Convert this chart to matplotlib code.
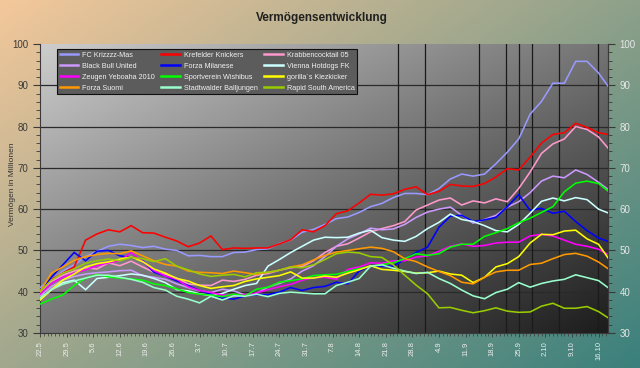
import numpy as np
import matplotlib
matplotlib.use("Agg")
import matplotlib.pyplot as plt
from matplotlib.lines import Line2D

# ---------------- data ----------------
days = list(range(0, 148, 3)) + [149.5]          # days since 22.5
tick_days = list(range(0, 148, 7))
tick_labels = ["22.5", "29.5", "5.6", "12.6", "19.6", "26.6", "3.7", "10.7", "17.7",
               "24.7", "31.7", "7.8", "14.8", "21.8", "28.8", "4.9", "11.9", "18.9",
               "25.9", "2.10", "9.10", "16.10"]
event_days = [94.2, 101.3, 115.5, 122.6, 126.0, 129.5, 136.6, 146.8]

krizz = [41, 43, 45, 46.5, 48.5, 49.8, 51, 51.5, 51.2, 50.7, 51, 50.3, 50, 48.7, 48.8, 48.5, 48.5,
         49.5, 49.6, 50.2, 50.4, 51.7, 52.5, 54.4, 55.1, 56.3, 57.7, 58.1, 59.2, 60.6, 61.4, 62.8,
         63.8, 63.8, 63.5, 65, 67.3, 68.5, 68, 68.5, 71, 73.8, 77, 83, 86.1, 90.5, 90.5, 95.8,
         95.8, 93, 89.8]
krefeld = [40, 43, 44.5, 46, 52.5, 54, 55, 54.5, 56, 54.3, 54.2, 53.2, 52.3, 50.9, 51.8, 53.5,
           50.2, 50.6, 50.5, 50.6, 50.6, 51.6, 52.6, 55, 54.5, 56, 58.9, 59.6, 61.5, 63.6, 63.4,
           63.7, 64.8, 65.4, 63.5, 64.3, 66, 65.6, 65.5, 66.2, 67.8, 69.8, 69.5, 72.6, 76, 78.1,
           78.5, 80.8, 79.8, 78.5, 78.1]
krabben = [39.8, 42.5, 44, 45, 45.8, 45.5, 47, 46.3, 47.4, 46, 44.7, 44.2, 43.3, 41.9, 41.6, 41.5,
           42.8, 42.5, 43, 44, 44.4, 45.2, 45.8, 46.1, 47.5, 49.5, 51, 51.6, 53, 54.5, 55.3, 56,
           57, 59.8, 61, 62.2, 62.7, 61, 62, 61.5, 62.5, 61.8, 65, 69, 73.5, 75.8, 77, 80, 79.3,
           77.5, 74.8]
blackbull = [39, 41.2, 42.8, 43.7, 44.3, 44.6, 44.8, 45.1, 45.2, 43.9, 43.5, 43, 41.9, 41, 40.2,
             39.8, 40.6, 40.2, 39.2, 39.6, 41.1, 42, 43.1, 45, 46.3, 48.5, 51, 52.8, 54, 55.4, 55,
             55.2, 56.3, 58, 59.3, 60, 60.5, 58.5, 56.6, 57.5, 58.5, 60.5, 61.8, 64, 66.8, 68,
             67.6, 69.5, 68.4, 66.5, 64.8]
milanese = [40, 43.5, 46.5, 49.5, 47.5, 49.8, 50, 48.7, 48.3, 47.5, 44.7, 43.8, 42.6, 41.5, 40.3,
            39.4, 38.5, 38.2, 39, 39.3, 39.3, 39.9, 41, 40.3, 41, 41.3, 42.3, 41.9, 45, 46.3, 46.2,
            46.2, 47.8, 49.5, 50.8, 55.6, 58.3, 58.5, 57, 57.4, 58, 60.6, 63.5, 59.7, 60.2, 59,
            59.5, 57, 54.8, 53, 52.2]
vienna = [38, 40.5, 42.2, 42.8, 40.5, 43.2, 43.5, 43.9, 44.3, 44, 43.2, 42.2, 40.5, 40.2, 39.5,
          39, 39.6, 40.6, 41.5, 42, 46.2, 47.8, 49.5, 51, 52.5, 53.2, 53.1, 53.2, 54.2, 54.9, 53.1,
          52.5, 52.2, 53.4, 55.3, 56.8, 58.8, 57.5, 57, 56, 54.8, 54.5, 56.3, 59, 61.9, 62.7, 62,
          62.8, 62.3, 60, 59.1]
zeugen = [39.4, 42, 43.5, 44.5, 45.3, 46.3, 47, 47.5, 49.5, 47.3, 45.1, 43.8, 43, 41.2, 40.3,
          39.8, 39.2, 39, 39.3, 39.7, 40.5, 41.2, 41.8, 42.8, 43.4, 43.5, 43, 45.4, 46, 47, 46.9,
          47.5, 47.5, 48.4, 48.7, 49.8, 51, 51.6, 51, 51.2, 51.8, 52, 52, 53.5, 53.9, 53.5, 52.5,
          51.5, 51, 50.3, 49]
wishibus = [37, 38.2, 39.2, 41.5, 43.3, 44.2, 43.6, 43.3, 43.1, 42.8, 41.9, 41.5, 40.7, 39.8,
            39.4, 39.2, 38.8, 39.4, 39, 40.6, 41.1, 42.3, 42.7, 43.1, 43.9, 44.1, 44.2, 44.9, 45.6,
            46.1, 46.6, 47, 48, 49.2, 48.8, 49.2, 50.8, 51.5, 51.5, 53.4, 54.3, 55.3, 56.7, 57.8,
            59.2, 60.6, 64.2, 66.3, 66.8, 66.2, 64.4]
gorilla = [38, 40.5, 42.8, 44.3, 46, 46.8, 47.2, 47.9, 48.4, 47.3, 45.5, 44.5, 43.2, 42.6, 41.5,
           40.8, 41.2, 41.5, 42.5, 43.1, 43.5, 43.9, 44.8, 43.3, 43.3, 43.8, 43.5, 44.5, 45.3,
           46.3, 45.4, 45.2, 44.9, 44.5, 44.6, 45, 44.3, 44, 42.2, 43.5, 46, 46.8, 48.5, 51.8,
           53.9, 53.8, 54.7, 54.9, 52.8, 51.5, 48.2]
suomi = [40, 44.5, 46, 47.6, 48.5, 49, 49.3, 49.2, 49.9, 48.7, 47.5, 46.6, 46.2, 45, 44.7, 44.6,
         44.4, 45, 44.6, 44.2, 44.7, 45.2, 46, 46.5, 47.7, 48.8, 49.6, 50, 50.4, 50.8, 50.5, 49.7,
         48, 47.3, 46, 44.9, 43.9, 42.3, 41.9, 43.5, 44.8, 45.2, 45.2, 46.6, 46.9, 48, 49, 49.3,
         48.6, 47.2, 45.6]
stadtwald = [38.5, 40.5, 41.8, 42.6, 43.3, 44, 44, 43.5, 43, 42.3, 41, 40.4, 38.9, 38.2, 37.3,
             38.9, 38, 39, 38.9, 39.4, 38.8, 39.6, 39.9, 39.7, 39.5, 39.5, 41.5, 42.3, 43.2, 46.2,
             46.5, 45.7, 45, 44.4, 44.7, 43.2, 42, 40.4, 39, 38.3, 39.8, 40.6, 42.2, 41.1, 42, 42.6,
             43, 44.1, 43.4, 42.7, 41]
rapid = [40, 42.8, 44.5, 45.5, 46.9, 47.5, 47.9, 47.5, 48.3, 48, 47.3, 48, 46.2, 45.3, 44.3, 43.7,
         44, 44.2, 43.6, 44.6, 44.7, 45.2, 46, 45.8, 46.5, 47.8, 49.2, 49.6, 49.4, 48.5, 48.3, 46.5,
         44, 41.6, 39.5, 36.1, 36.2, 35.5, 34.9, 35.4, 36.1, 35.3, 35, 35.1, 36.5, 37.2, 36, 36,
         36.4, 35.2, 33.7]

series = [
    ("FC Krizzzz-Mas", krizz, "#9999ff"),
    ("Krefelder Knickers", krefeld, "#ff0000"),
    ("Krabbencocktail 05", krabben, "#ff99cc"),
    ("Black Bull United", blackbull, "#cc99ff"),
    ("Forza Milanese", milanese, "#0000ff"),
    ("Vienna Hotdogs FK", vienna, "#ccffff"),
    ("Zeugen Yeboaha 2010", zeugen, "#ff00ff"),
    ("Sportverein Wishibus", wishibus, "#00ff00"),
    ("gorilla´s Kiezkicker", gorilla, "#ffff00"),
    ("Forza Suomi", suomi, "#ff9900"),
    ("Stadtwalder Balljungen", stadtwald, "#99ffcc"),
    ("Rapid South America", rapid, "#99cc00"),
]

plt.rcParams['font.family'] = ['Liberation Sans', 'DejaVu Sans']

fig = plt.figure(figsize=(6.4, 3.68), dpi=100)

# figure background gradient
bg = fig.add_axes([0, 0, 1, 1], zorder=-10)
bg.axis('off')
yy, xx = np.mgrid[0:1:200j, 0:1:350j]
t = np.clip(0.55 * xx + 0.45 * yy, 0, 1)[..., None]
c0 = np.array([244, 200, 155]) / 255
c1 = np.array([58, 128, 124]) / 255
bg.imshow(c0 * (1 - t) + c1 * t, extent=[0, 1, 0, 1], aspect='auto', origin='upper')
bg.set_xlim(0, 1); bg.set_ylim(0, 1)

ax = fig.add_axes([0.0625, 0.0951, 0.8875, 0.7853])
yy2, xx2 = np.mgrid[0:1:200j, 0:1:300j]
t2 = np.clip(0.5 * xx2 + 0.5 * yy2, 0, 1)[..., None]
p0 = np.array([205, 205, 205]) / 255
p1 = np.array([28, 28, 28]) / 255
ax.imshow(p0 * (1 - t2) + p1 * t2, extent=[0, 1, 0, 1], transform=ax.transAxes,
          aspect='auto', origin='upper', zorder=0)

for v in range(40, 100, 10):
    ax.axhline(v, color='#2a2a2a', lw=0.9, zorder=1)
for d in event_days:
    ax.axvline(d, color='#1a1a1a', lw=0.9, zorder=1)

for name, vals, col in series:
    ax.plot(days, vals, color=col, lw=1.15, zorder=3, solid_joinstyle='miter')

ax.set_xlim(0, 149.5)
ax.set_ylim(30, 100)
ax.set_aspect('auto')

ax.set_yticks(range(30, 101, 10))
ax.set_yticks(range(30, 101, 2), minor=True)
ax.set_xticks(tick_days)
ax.set_xticklabels(tick_labels, rotation=90, fontsize=5.5, color='#ececec')
ax.set_xticks(range(0, 150), minor=True)
ax.tick_params(axis='y', which='major', labelsize=7, colors='#3a3a3a', length=5, width=0.8)
ax.tick_params(axis='y', which='minor', length=3, width=0.6, color='#3a3a3a')
ax.tick_params(axis='x', which='major', length=3, width=0.6, color='#3a3a3a', pad=3)
ax.tick_params(axis='x', which='minor', length=2, width=0.5, color='#3a3a3a')
ax.spines['top'].set_visible(False)
for s in ['left', 'bottom', 'right']:
    ax.spines[s].set_color('#3a3a3a')
    ax.spines[s].set_linewidth(0.8)

ax2 = ax.twinx()
ax2.set_ylim(30, 100)
ax2.set_yticks(range(30, 101, 10))
ax2.set_yticks(range(30, 101, 2), minor=True)
ax2.tick_params(axis='y', which='major', labelsize=7, colors='#e6e6e6', length=5, width=0.8)
ax2.tick_params(axis='y', which='minor', length=3, width=0.6, color='#3a3a3a')
ax2.tick_params(axis='y', which='major', color='#3a3a3a')
for s in ['top', 'left', 'bottom']:
    ax2.spines[s].set_visible(False)
ax2.spines['right'].set_color('#3a3a3a')

# legend in row order, 3 columns
order = [0, 3, 6, 9, 1, 4, 7, 10, 2, 5, 8, 11]
handles = [Line2D([0], [0], color=series[i][2], lw=1.8) for i in order]
labels = [series[i][0] for i in order]
leg = ax2.legend(handles, labels, ncol=3, loc='upper left',
                 bbox_to_anchor=(0.030, 0.827, 0.528, 0.156), mode='expand',
                 borderaxespad=0, fontsize=5.2, labelcolor='#f0f0f0',
                 frameon=True, fancybox=False, facecolor='#5c5c5c', edgecolor='#101010',
                 framealpha=1, handlelength=2.6, handletextpad=0.5, columnspacing=1.0,
                 labelspacing=0.55, borderpad=0.35)
leg.get_frame().set_linewidth(0.8)

fig.text(0.503, 0.951, "Vermögensentwicklung", ha='center', va='center',
         fontsize=8.5, fontweight='bold', color='#202020')
fig.text(0.019, 0.50, "Vermögen in Millionen", rotation=90, ha='center', va='center',
         fontsize=6, color='#333333')

fig.savefig("out.png", dpi=100)
